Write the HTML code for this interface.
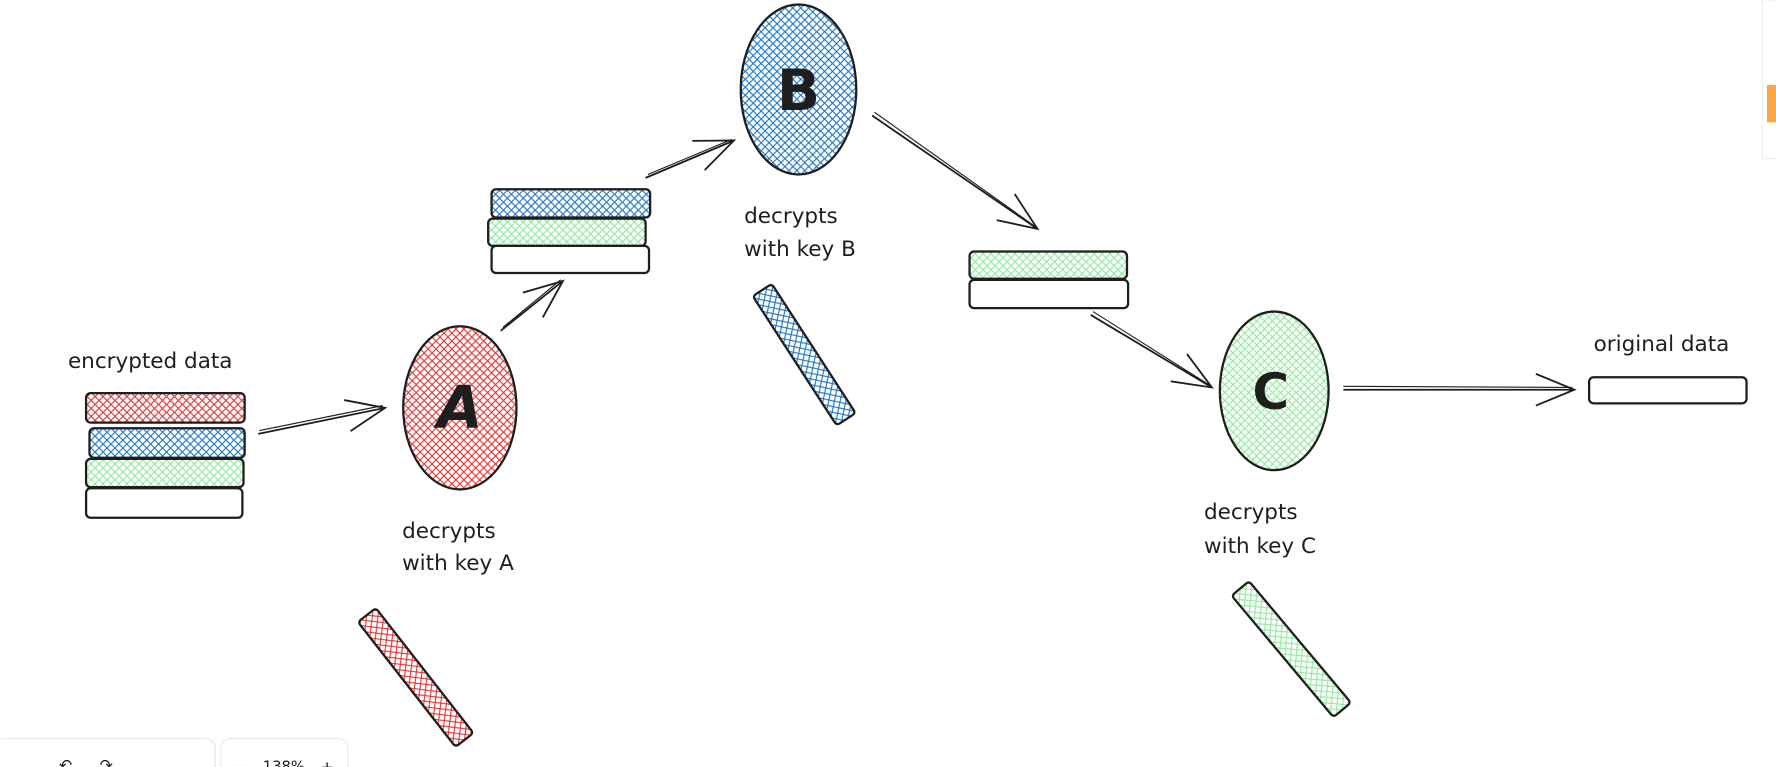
<!DOCTYPE html>
<html><head><meta charset="utf-8"><style>
html,body{margin:0;padding:0;background:#fff;width:1776px;height:767px;overflow:hidden}
svg{display:block}
text{font-family:"DejaVu Sans","Liberation Sans",sans-serif;fill:#1e1e1e}
</style></head><body>
<svg width="1776" height="767" viewBox="0 0 1568 677" preserveAspectRatio="none" xmlns="http://www.w3.org/2000/svg">
<defs>
<pattern id="hr" width="7" height="7" patternUnits="userSpaceOnUse"><path d="M0 7L7 0M0 0L7 7" stroke="#e03131" stroke-width="1"/></pattern>
<pattern id="hb" width="7" height="7" patternUnits="userSpaceOnUse"><path d="M0 7L7 0M0 0L7 7" stroke="#1971c2" stroke-width="1"/></pattern>
<pattern id="hg" width="7" height="7" patternUnits="userSpaceOnUse"><path d="M0 7L7 0M0 0L7 7" stroke="#8ce99a" stroke-width="1"/></pattern>
<marker id="ar" markerWidth="40" markerHeight="34" refX="36" refY="17" orient="auto" markerUnits="userSpaceOnUse"><path d="M2 3L36 17L2 31" fill="none" stroke="#1e1e1e" stroke-width="1.6"/></marker>
</defs>
<g stroke="#1e1e1e" stroke-width="2" fill="none">
<rect x="76" y="347" width="140" height="26" rx="4" fill="url(#hr)"/>
<rect x="79" y="378" width="137" height="26" rx="4" fill="url(#hb)"/>
<rect x="76" y="405" width="139" height="25" rx="4" fill="url(#hg)"/>
<rect x="76" y="431" width="138" height="26" rx="4" fill="#fff"/>
<rect x="434" y="167" width="140" height="25" rx="4" fill="url(#hb)"/>
<rect x="431" y="193" width="139" height="24" rx="4" fill="url(#hg)"/>
<rect x="434" y="217" width="139" height="24" rx="4" fill="#fff"/>
<rect x="856" y="222" width="139" height="24" rx="4" fill="url(#hg)"/>
<rect x="856" y="247" width="140" height="25" rx="4" fill="#fff"/>
<rect x="1403" y="333" width="139" height="23" rx="4" fill="#fff"/>
<ellipse cx="406" cy="360" rx="50" ry="72" fill="url(#hr)"/>
<ellipse cx="705" cy="79" rx="51" ry="75" fill="url(#hb)"/>
<ellipse cx="1125" cy="345" rx="48" ry="70" fill="url(#hg)"/>
<rect x="-10" y="-70" width="20" height="140" rx="3" fill="url(#hr)" transform="translate(367,598) rotate(-38)"/>
<rect x="-10" y="-68" width="20" height="136" rx="3" fill="url(#hb)" transform="translate(710,313) rotate(-33)"/>
<rect x="-10" y="-70" width="20" height="140" rx="3" fill="url(#hg)" transform="translate(1140,573) rotate(-40)"/>
<g stroke-width="1.6" marker-end="url(#ar)">
<path d="M228 383L340 360"/>
<path d="M442 292L497 248"/>
<path d="M570 157L648 124"/>
<path d="M770 102L916 202"/>
<path d="M963 278L1070 342"/>
<path d="M1186 344L1390 344"/>
</g>
<g stroke-width="1">
<path d="M229 380L338 358"/><path d="M444 289L495 247"/><path d="M572 154L646 123"/><path d="M772 99L914 200"/><path d="M965 275L1068 340"/><path d="M1186 341L1388 342"/>
</g>
</g>
<text x="60" y="325" font-size="19">encrypted data</text>
<text x="355" y="475" font-size="19">decrypts</text>
<text x="355" y="503" font-size="19">with key A</text>
<text x="657" y="197" font-size="19">decrypts</text>
<text x="657" y="226" font-size="19">with key B</text>
<text x="1063" y="458" font-size="19">decrypts</text>
<text x="1063" y="488" font-size="19">with key C</text>
<text x="1407" y="310" font-size="19">original data</text>
<text x="406" y="378" font-size="52" font-weight="bold" text-anchor="middle" font-style="italic">A</text>
<text x="705" y="97" font-size="50" font-weight="bold" text-anchor="middle" font-family="Liberation Serif">B</text>
<text x="1122" y="361" font-size="44" font-weight="bold" text-anchor="middle">C</text>
<rect x="1560" y="75" width="10" height="33" fill="#f8a847"/>
<rect x="1556" y="0" width="14" height="140" fill="none" stroke="#eee"/>
<rect x="-5" y="652" width="195" height="40" rx="8" fill="#fff" stroke="#e8e8e8"/>
<rect x="195" y="652" width="112" height="40" rx="8" fill="#fff" stroke="#e8e8e8"/>
<text x="52" y="680" font-size="14" fill="#555">↶</text>
<text x="88" y="680" font-size="14" fill="#555">↷</text>
<text x="206" y="682" font-size="14" fill="#555">−</text>
<text x="232" y="681" font-size="13" fill="#555">138%</text>
<text x="283" y="682" font-size="14" fill="#555">+</text>
</svg>
</body></html>
